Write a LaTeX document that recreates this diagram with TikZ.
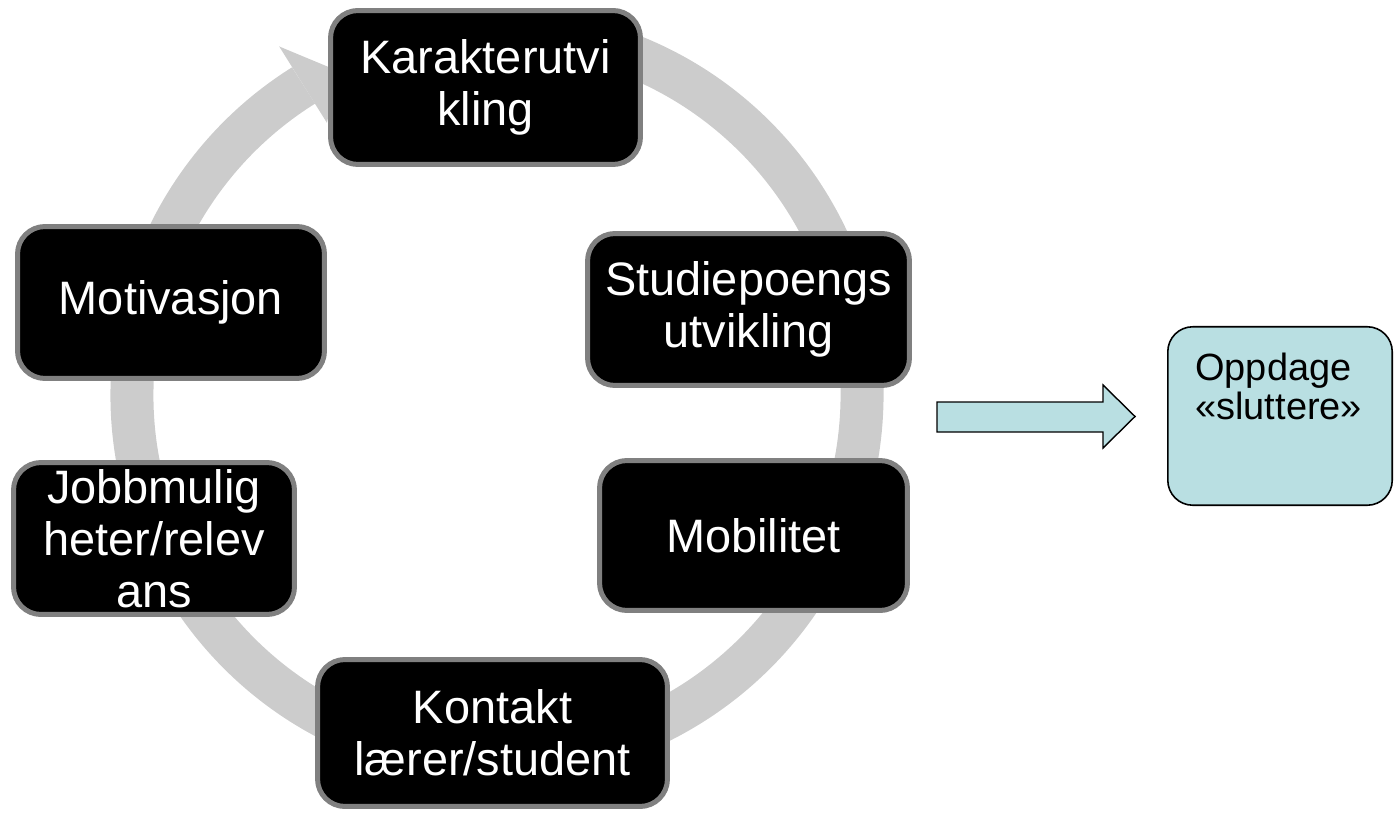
\documentclass[tikz,border=0pt]{standalone}
\usepackage{fontspec}
\setmainfont{Liberation Sans}
\usetikzlibrary{calc}
\definecolor{ringgray}{HTML}{CCCCCC}
\definecolor{bordergray}{HTML}{808080}
\definecolor{paleblue}{HTML}{B9DFE2}
\tikzset{
  cyclebox/.style={draw=bordergray, line width=2.85pt, fill=black, text=white,
    rounded corners=0.55cm, align=center, inner sep=0pt,
    font=\fontsize{26.7}{29.5}\selectfont},
  bluebox/.style={draw=black, line width=0.9pt, fill=paleblue, rounded corners=0.5cm, inner sep=0pt},
  bluetext/.style={align=left, inner sep=0pt, font=\fontsize{21.6}{22}\selectfont, text=black},
}
\begin{document}
\begin{tikzpicture}[x=0.02cm,y=0.02cm]
\useasboundingbox (0,0) rectangle (1395,812);
% cycle ring
\begin{scope}[shift={(497,417)}]
  \draw[ringgray, line width=0.86cm] (80:365) arc[start angle=80, end angle=-238, radius=365];
  \fill[ringgray] (122:321) -- (116:360) -- (122:411) -- cycle;
\end{scope}
% boxes
\node[cyclebox, minimum width=6.2cm, minimum height=3.08cm] (kar) at (485.5,724.5) {Karakterutvi\\kling};
\node[cyclebox, minimum width=6.44cm, minimum height=3.04cm] (stu) at (748.5,502.5) {Studiepoengs\\utvikling};
\node[cyclebox, minimum width=6.16cm, minimum height=3.0cm] (mob) at (753.5,276.5) {Mobilitet};
\node[cyclebox, minimum width=7.0cm, minimum height=2.94cm] (kon) at (492.5,79) {Kontakt\\lærer/student};
\node[cyclebox, minimum width=5.62cm, minimum height=3.04cm] (job) at (154,273.5) {Jobbmulig\\heter/relev\\ans};
\node[cyclebox, minimum width=6.14cm, minimum height=3.04cm] (mot) at (171,509.5) {Motivasjon};
% block arrow
\filldraw[fill=paleblue, draw=black, line width=0.8pt]
  (937,410) -- (1103,410) -- (1103,427) -- (1135,395.5) -- (1103,364) -- (1103,380) -- (937,380) -- cycle;
% result box
\node[bluebox, minimum width=4.49cm, minimum height=3.57cm] (opp) at (1280,396) {};
\node[bluetext, anchor=north west] (opptext) at ($(opp.north west)+(28,-27)$) {Oppdage\\«sluttere»};
\end{tikzpicture}
\end{document}
